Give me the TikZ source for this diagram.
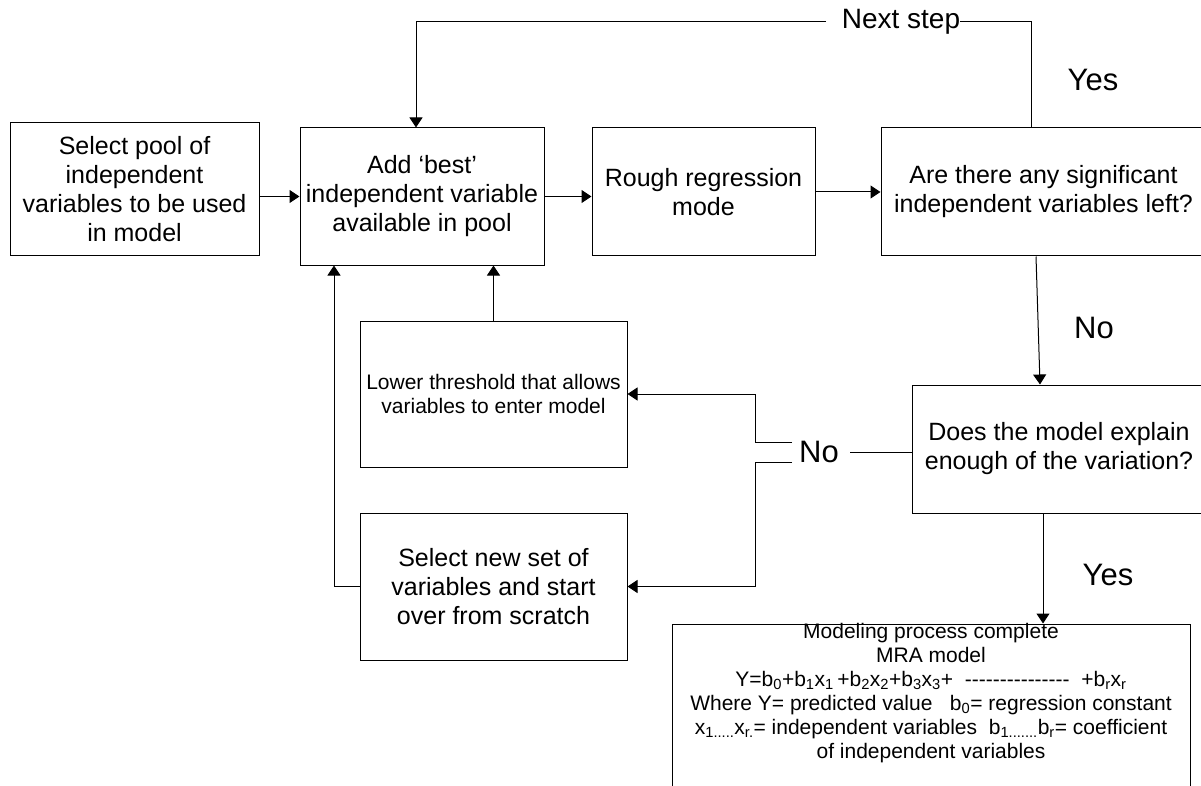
\documentclass[tikz,border=0pt]{standalone}
\usepackage{fontspec}
\setmainfont{Liberation Sans}
\usetikzlibrary{arrows.meta}
\newcommand{\sub}[1]{\textsubscript{#1}}
\begin{document}
\begin{tikzpicture}[x=1pt,y=-1pt,
  every node/.style={inner sep=0pt},
  box/.style={draw, line width=1pt, align=center, font=\fontsize{25}{29}\selectfont},
  smallbox/.style={box, font=\fontsize{21}{24}\selectfont},
  ln/.style={line width=1pt},
  arr/.style={ln, -{Triangle[length=10pt,width=13pt]}},
  lbl/.style={font=\fontsize{31}{36}\selectfont},
  steplbl/.style={font=\fontsize{28}{32}\selectfont}]
\useasboundingbox (0,0) rectangle (1201,786);
\clip (0,0) rectangle (1201,786);

% process boxes
\node[box, minimum width=249pt, minimum height=133pt] (A) at (134.5,189.5)
  {Select pool of\\independent\\variables to be used\\in model};
\node[box, minimum width=244pt, minimum height=137pt] (B) at (422,196.5)
  {Add ‘best’\\independent variable\\available in pool};
\node[box, minimum width=223pt, minimum height=128pt] (C) at (703.5,192)
  {Rough regression\\mode};
\node[box, minimum width=325pt, minimum height=128pt] (D) at (1043.5,192)
  {Are there any significant\\independent variables left?};
\node[box, minimum width=294pt, minimum height=128pt] (E) at (1059,449)
  {Does the model explain\\enough of the variation?};
\node[smallbox, minimum width=267pt, minimum height=146pt] (F) at (493.5,394)
  {Lower threshold that allows\\variables to enter model};
\node[box, minimum width=267pt, minimum height=147pt] (G) at (493.5,586.5)
  {Select new set of\\variables and start\\over from scratch};
\node[draw, line width=1pt, minimum width=518pt, minimum height=176pt] (H) at (931,712) {};
\node[anchor=north, align=center, font=\fontsize{21}{24}\selectfont] (Htext) at (931,623)
  {Modeling process complete\\
   MRA model\\
   Y=b\sub{0}+b\sub{1}x\sub{1}\,+b\sub{2}x\sub{2}+b\sub{3}x\sub{3}+ \ -{}-{}-{}-{}-{}-{}-{}-{}-{}-{}-{}-{}-{}-{}- \ +b\sub{r}x\sub{r}\\
   Where Y= predicted value\ \ \ b\sub{0}= regression constant\\
   x\sub{1.....}x\sub{r.}= independent variables\ \ b\sub{1.......}b\sub{r}= coefficient\\
   of independent variables};

% labels
\node[steplbl] (ns) at (901,22) {Next step};
\node[lbl] (yes1) at (1093,80) {Yes};
\node[lbl] (no1) at (1094,328) {No};
\node[lbl] (no2) at (819,452) {No};
\node[lbl] (yes2) at (1108,575) {Yes};

% helper coordinates for connector routes
\coordinate (tx) at (1031,0);
\coordinate (lx) at (416,0);
\coordinate (nsl) at (826,22);
\coordinate (gx) at (334,0);
\coordinate (dx1) at (1036,0);
\coordinate (dx2) at (1040,0);
\coordinate (ex) at (1043,0);
\coordinate (fx) at (755,0);
\coordinate (fu) at (792,442);
\coordinate (fl) at (792,462);
\coordinate (nr) at (850,452);

% main flow
\draw[arr] (A.east |- B.west) -- (B.west);
\draw[arr] (B.east) -- (B.east -| C.west);
\draw[arr] (C.east) -- (C.east -| D.west);

% "Next step" loop back to B
\draw[ln] (D.north -| tx) |- (ns.east);
\draw[arr] (nsl) -| (B.north -| lx);

% decision D -> E, E -> H
\draw[arr] (D.south -| dx1) -- (E.north -| dx2);
\draw[arr] (E.south -| ex) -- (H.north -| ex);

% "No" branch from E
\draw[ln] (E.west |- nr) -- (nr);
\draw[arr] (fu) -| (fx |- F.east) -- (F.east);
\draw[arr] (fl) -| (fx |- G.east) -- (G.east);

% returns into B
\draw[arr] (F.north) -- (F.north |- B.south);
\draw[arr] (G.west) -| (B.south -| gx);
\end{tikzpicture}
\end{document}
